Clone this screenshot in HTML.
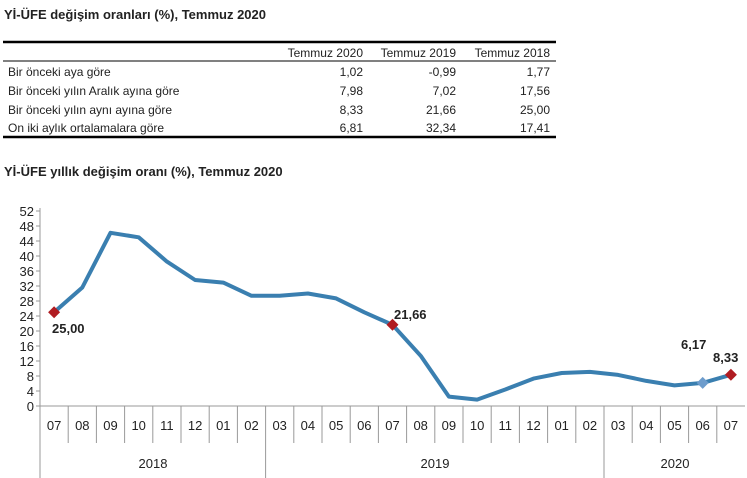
<!DOCTYPE html>
<html><head><meta charset="utf-8"><style>
body{margin:0;background:#fff;width:747px;height:478px;overflow:hidden;font-family:"Liberation Sans",Arial,sans-serif;}
</style></head><body>
<svg width="747" height="478" xmlns="http://www.w3.org/2000/svg" style="position:absolute;left:0;top:0" font-family="Liberation Sans, Arial, sans-serif">
<text x="4" y="19" font-size="13" font-weight="bold" fill="#222">Yİ-ÜFE değişim oranları (%), Temmuz 2020</text>
<line x1="3" y1="42" x2="556" y2="42" stroke="#000" stroke-width="2.5"/>
<line x1="3" y1="61" x2="556" y2="61" stroke="#000" stroke-width="1"/>
<line x1="3" y1="137" x2="556" y2="137" stroke="#000" stroke-width="2.5"/>
<g font-size="12" fill="#222">
<text x="363" y="57" text-anchor="end">Temmuz 2020</text>
<text x="456" y="57" text-anchor="end">Temmuz 2019</text>
<text x="550" y="57" text-anchor="end">Temmuz 2018</text>
<text x="8" y="76">Bir önceki aya göre</text>
<text x="8" y="95">Bir önceki yılın Aralık ayına göre</text>
<text x="8" y="114">Bir önceki yılın aynı ayına göre</text>
<text x="8" y="132">On iki aylık ortalamalara göre</text>
<g text-anchor="end">
<text x="363" y="76">1,02</text><text x="456" y="76">-0,99</text><text x="550" y="76">1,77</text>
<text x="363" y="95">7,98</text><text x="456" y="95">7,02</text><text x="550" y="95">17,56</text>
<text x="363" y="114">8,33</text><text x="456" y="114">21,66</text><text x="550" y="114">25,00</text>
<text x="363" y="132">6,81</text><text x="456" y="132">32,34</text><text x="550" y="132">17,41</text>
</g></g>
<text x="4" y="176" font-size="13" font-weight="bold" fill="#222">Yİ-ÜFE yıllık değişim oranı (%), Temmuz 2020</text>
<g id="axes" stroke="#999" stroke-width="1"></g>
<g id="ylab" font-size="13" fill="#222" text-anchor="end"></g>
<g id="xlab" font-size="13" fill="#222" text-anchor="middle"></g>
<polyline id="line" fill="none" stroke="#3a7fb0" stroke-width="4" stroke-linejoin="round"/>
<g id="marks"></g>
<g font-size="13" font-weight="bold" fill="#222">
<text x="52" y="333">25,00</text>
<text x="394" y="319">21,66</text>
<text x="681" y="349">6,17</text>
<text x="713" y="362">8,33</text>
</g>
</svg>
<script>
var ns="http://www.w3.org/2000/svg";
function el(p,t,a,txt){var e=document.createElementNS(ns,t);for(var k in a)e.setAttribute(k,a[k]);if(txt)e.textContent=txt;document.getElementById(p).appendChild(e);}
var y0=406,s=3.75,L=40,w=28.2;
el("axes","line",{x1:L,y1:208,x2:L,y2:478});
el("axes","line",{x1:L,y1:y0,x2:745,y2:y0});
for(var v=0;v<=52;v+=4){el("axes","line",{x1:L-4,y1:y0-v*s,x2:L,y2:y0-v*s});el("ylab","text",{x:L-6,y:y0-v*s+5},String(v));}
var mo=["07","08","09","10","11","12","01","02","03","04","05","06","07","08","09","10","11","12","01","02","03","04","05","06","07"];
for(var i=0;i<25;i++){var bx=L+w*(i+1);var lg=(i==7||i==19);if(i<24)el("axes","line",{x1:bx,y1:y0,x2:bx,y2:lg?478:443});
el("xlab","text",{x:L+w*(i+0.5),y:430},mo[i]);}
el("xlab","text",{x:153,y:468},"2018");el("xlab","text",{x:435,y:468},"2019");el("xlab","text",{x:675,y:468},"2020");
var d=[25,31.6,46.2,45,38.5,33.6,32.9,29.4,29.4,30,28.7,25,21.66,13.4,2.5,1.7,4.4,7.3,8.8,9.1,8.3,6.7,5.5,6.17,8.33];
var pts=d.map(function(v,i){return (L+w*(i+0.5)).toFixed(1)+","+(y0-v*s).toFixed(1);}).join(" ");
document.getElementById("line").setAttribute("points",pts);
function dia(i,c){var x=L+w*(i+0.5),y=y0-d[i]*s;el("marks","polygon",{points:(x-6)+","+y+" "+x+","+(y-6)+" "+(x+6)+","+y+" "+x+","+(y+6),fill:c});}
dia(0,"#b01c22");dia(12,"#b01c22");dia(23,"#6d9ccc");dia(24,"#b01c22");
</script>
</body></html>
